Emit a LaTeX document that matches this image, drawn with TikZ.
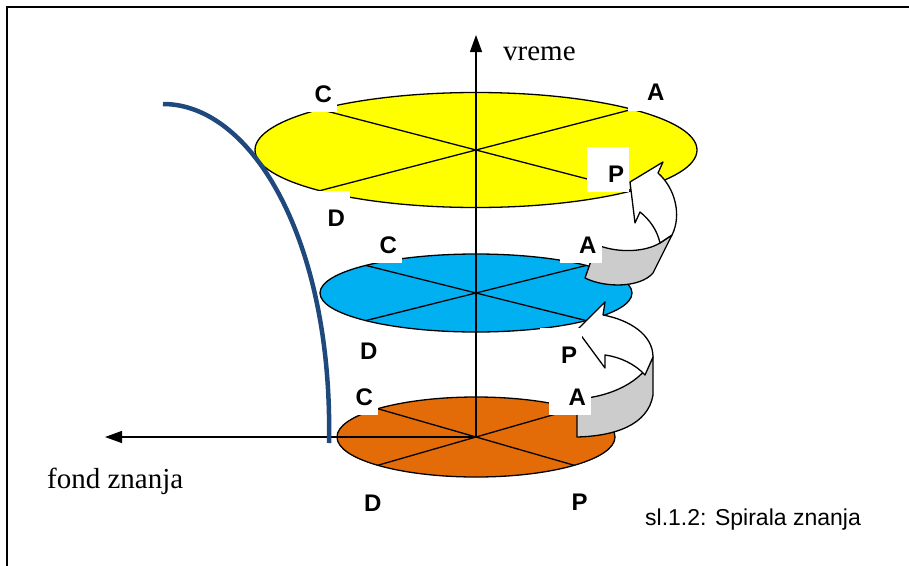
\documentclass[tikz,border=0pt]{standalone}
\usepackage{fontspec}
\setmainfont{Liberation Serif}
\setsansfont{Liberation Sans}
\usetikzlibrary{shapes.geometric,arrows.meta,calc}
\definecolor{yelfill}{RGB}{255,255,0}
\definecolor{cyanfill}{RGB}{0,176,240}
\definecolor{orngfill}{RGB}{227,108,9}
\definecolor{ribgrey}{RGB}{204,204,204}
\definecolor{curveblue}{RGB}{31,73,125}
\newcommand\lbtxt[1]{\makebox[42pt][r]{#1\kern5pt}}
\begin{document}
\begin{tikzpicture}[x=1pt,y=-1pt,
  disc/.style={ellipse, draw=black, line width=1.3pt, inner sep=0pt, outer sep=0pt},
  spoke/.style={line width=1.3pt},
  axis/.style={line width=1.3pt, -{Triangle[length=17pt,width=12pt]}},
  lbl/.style={fill=white, inner sep=0pt, minimum width=42pt, minimum height=45pt,
    text height=35pt, text depth=10pt, font=\sffamily\bfseries\fontsize{24}{24}\selectfont},
  ribbon/.style={draw=black, line width=1.3pt, line join=round},
  serif/.style={font=\rmfamily\fontsize{29}{29}\selectfont, inner sep=0pt}
]
\useasboundingbox (0,0) rectangle (909,565);
% frame
\coordinate (fbl) at (7,570);
\coordinate (ftl) at (7,7);
\coordinate (ftr) at (915,7);
\draw[line width=2pt] (fbl) -- (ftl) -- (ftr);

% discs
\node[disc, fill=orngfill, minimum width=278pt, minimum height=80pt] (og) at (476,437) {};
\coordinate (og-nw) at ($(og.center)+(-98.3,-28.3)$);
\coordinate (og-se) at ($(og.center)+(98.3,28.3)$);
\coordinate (og-sw) at ($(og.center)+(-98.3,28.3)$);
\coordinate (og-ne) at ($(og.center)+(98.3,-28.3)$);
\draw[spoke] (og-nw) -- (og-se);
\draw[spoke] (og-sw) -- (og-ne);

\node[disc, fill=cyanfill, minimum width=312pt, minimum height=78pt] (bl) at (476,293) {};
\coordinate (bl-nw) at ($(bl.center)+(-110.3,-27.6)$);
\coordinate (bl-se) at ($(bl.center)+(110.3,27.6)$);
\coordinate (bl-sw) at ($(bl.center)+(-110.3,27.6)$);
\coordinate (bl-ne) at ($(bl.center)+(110.3,-27.6)$);
\draw[spoke] (bl-nw) -- (bl-se);
\draw[spoke] (bl-sw) -- (bl-ne);

\node[disc, fill=yelfill, minimum width=442pt, minimum height=115pt] (yl) at (476,150) {};
\coordinate (yl-nw) at ($(yl.center)+(-156.3,-40.7)$);
\coordinate (yl-se) at ($(yl.center)+(156.3,40.7)$);
\coordinate (yl-sw) at ($(yl.center)+(-156.3,40.7)$);
\coordinate (yl-ne) at ($(yl.center)+(156.3,-40.7)$);
\draw[spoke] (yl-nw) -- (yl-se);
\draw[spoke] (yl-sw) -- (yl-ne);

% axes
\coordinate (ttop) at (476,35);
\coordinate (xleft) at (105,437);
\draw[axis] (og.center) -- (ttop);
\draw[axis] (og.center) -- (xleft);

% knowledge curve
\coordinate (cs) at (163,104);
\coordinate (ce) at (329,443);
\draw[curveblue, line width=4.5pt] (cs) .. controls (253,104) and (333,243) .. (ce);

% upper ribbon arrow (blue -> yellow)
\path[ribbon, fill=ribgrey] (592,258) -- (585,278) .. controls (605,288) and (640,288) .. (653,273)
  -- (672,235) -- (660,243) .. controls (645,252) and (620,253) .. (600,246) -- cycle;
\path[ribbon, fill=white] (660,243) .. controls (657,230) and (650,220) .. (640,212)
  -- (635,223) -- (630,182) -- (663,162) -- (658,173)
  .. controls (675,188) and (682,215) .. (672,235) -- cycle;

% lower ribbon arrow (orange -> blue)
\path[ribbon, fill=ribgrey] (577,399) -- (577,437) .. controls (615,436) and (648,425) .. (653,395)
  -- (653,357) .. controls (643,382) and (610,397) .. (577,399) -- cycle;
\path[ribbon, fill=white] (653,357) -- (645,375) .. controls (635,364) and (620,357) .. (605,355)
  -- (605,368) -- (577,330) -- (605,302) -- (603,315)
  .. controls (630,320) and (653,335) .. (653,357) -- cycle;

% labels
\node[lbl] (yC) at (316,89.5) {\lbtxt{C}};
\node[lbl] (yA) at (648.5,88) {\lbtxt{A}};
\node[lbl] (yP) at (608,169.5) {\lbtxt{P}};
\node[lbl] (yD) at (329,213.5) {\lbtxt{D}};
\node[lbl] (bC) at (381,240.5) {\lbtxt{C}};
\node[lbl] (bA) at (580.5,240.5) {\lbtxt{A}};
\node[lbl] (bD) at (361.5,347) {\lbtxt{D}};
\node[lbl] (bP) at (561,350.5) {\lbtxt{P}};
\node[lbl] (oC) at (357,392.5) {\lbtxt{C}};
\node[lbl] (oA) at (570,392.5) {\lbtxt{A}};
\node[lbl] (oD) at (365.5,499) {\lbtxt{D}};
\node[lbl] (oP) at (571.5,498) {\lbtxt{P}};

% texts
\node[serif, anchor=base west] (vreme) at (503,60) {vreme};
\node[serif, anchor=base west] (fond) at (47,488) {fond znanja};
\node[font=\sffamily\fontsize{23}{23}\selectfont, anchor=base west, inner sep=0pt] (caption) at (645,525) {sl.1.2: Spirala znanja};
\end{tikzpicture}
\end{document}
